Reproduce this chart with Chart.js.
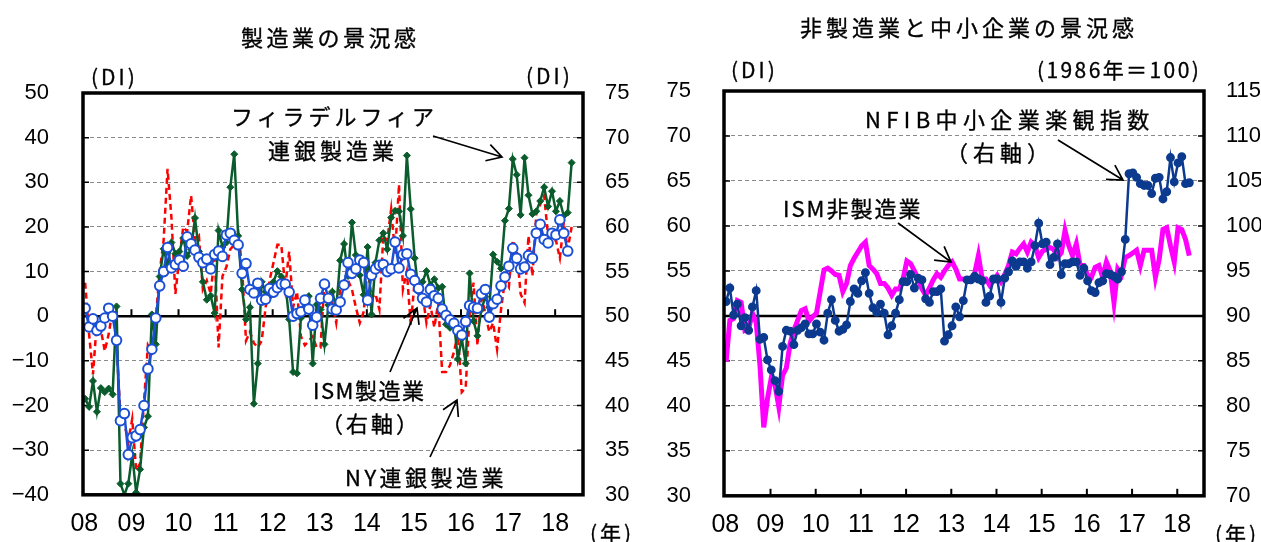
<!DOCTYPE html>
<html lang="ja">
<head>
<meta charset="utf-8">
<title>製造業・非製造業の景況感</title>
<script src="https://cdn.jsdelivr.net/npm/chart.js@4.4.1/dist/chart.umd.min.js"></script>
<style>
  html, body { margin: 0; padding: 0; background: #fff; }
  #page { position: relative; width: 1261px; height: 542px; overflow: hidden; color: #000;
          font-family: "Noto Sans CJK JP", "Noto Sans", sans-serif; }
  canvas { position: absolute; top: 0; }
  #left-chart { left: 0; }
  #right-chart { left: 640px; }
  #arrows { position: absolute; left: 0; top: 0; }
  .t { position: absolute; white-space: nowrap; font-size: 22px; line-height: 22px; letter-spacing: 4px;
       -webkit-text-stroke: 0.35px #000; }
  .u { font-size: 21px; line-height: 21px; letter-spacing: 3px; }
</style>
</head>
<body>
<div id="page">
  <canvas id="left-chart" width="640" height="542"></canvas>
  <canvas id="right-chart" width="621" height="542"></canvas>
  <svg id="arrows" width="1261" height="542"></svg>

  <!-- titles -->
  <div class="t" style="left:241px; top:25px; letter-spacing:3.5px;">製造業の景況感</div>
  <div class="t" style="left:800px; top:15px; letter-spacing:4px;">非製造業と中小企業の景況感</div>

  <!-- units -->
  <div class="t u" style="left:91px; top:66px;">(DI)</div>
  <div class="t u" style="left:526px; top:65px;">(DI)</div>
  <div class="t u" style="left:731px; top:59px;">(DI)</div>
  <div class="t u" style="left:1037px; top:59px; letter-spacing:2.4px;">(1986年＝100)</div>
  <div class="t u" style="left:590px; top:522px;">(年)</div>
  <div class="t u" style="left:1215px; top:523px;">(年)</div>

  <!-- left panel notes -->
  <div class="t" style="left:231px; top:104px;">フィラデルフィア</div>
  <div class="t" style="left:268px; top:138px;">連銀製造業</div>
  <div class="t" style="left:313px; top:378px; letter-spacing:1.5px;">ISM製造業</div>
  <div class="t" style="left:321px; top:411px; letter-spacing:3px;">（右軸）</div>
  <div class="t" style="left:345px; top:465px; letter-spacing:3.5px;">NY連銀製造業</div>

  <!-- right panel notes -->
  <div class="t" style="left:865px; top:107px; letter-spacing:5.4px;">NFIB中小企業楽観指数</div>
  <div class="t" style="left:946px; top:140px; letter-spacing:5px;">（右軸）</div>
  <div class="t" style="left:783px; top:196px; letter-spacing:2px;">ISM非製造業</div>
</div>

<script>
// x position of each month: index from Jan 2008
const yearLabels = ["08", "09", "10", "11", "12", "13", "14", "15", "16", "17", "18"];

// Philadelphia Fed manufacturing DI (left axis), Jan 2008 - May 2018
const phillyFed = [
  -18.5, -20.3, -14.5, -21.4, -16.1, -17.0, -16.2, -17.5, 2.2, -37.5, -40.0, -37.5,
  -31.0, -39.5, -34.3, -24.9, -22.4, 0.4, -6.3, 8.9, 15.1, 11.5, 16.5, 14.0,
  14.5, 17.5, 13.5, 15.0, 22.0, 14.5, 7.7, 3.7, 4.6, 0.7, 19.2, 15.5,
  16.5, 28.9, 36.3, 18.0, 6.0, -0.7, 2.0, -19.6, -10.6, 7.7, 5.5, 4.4,
  7.7, 10.1, 8.9, 7.5, -0.7, -12.5, -12.8, -0.4, 3.0, 4.5, -10.6, 2.6,
  1.5, -6.3, 2.5, 5.5, 1.8, 12.5, 16.2, 9.0, 21.0, 13.7, 9.2, 4.8,
  15.5, 0.4, 12.0, 17.0, 18.6, 15.0, 22.1, 23.6, 23.5, 18.0, 36.0, 24.0,
  13.0, 5.5, 7.7, 10.1, 7.0, 8.3, 6.3, 6.6, -1.8, -2.6, -1.5, -9.6,
  -5.0, -10.6, 9.6, -1.1, -4.4, 1.5, 4.4, 2.0, 13.8, 12.2, 10.7, 21.4,
  24.1, 35.2, 31.7, 22.7, 35.5, 27.1, 22.9, 23.5, 25.8, 28.9, 24.6, 28.0,
  23.5, 25.8, 22.5, 23.2, 34.4
];

// NY Fed (Empire State) manufacturing DI (left axis), Jan 2008 - May 2018
const nyFed = [
  7.5, -4.0, -13.0, -1.0, -3.0, -7.8, -4.0, 1.5, -6.0, -22.5, -24.0, -28.0,
  -23.0, -34.5, -33.0, -19.0, -6.5, -8.0, -0.5, 10.0, 17.0, 33.0, 22.0, 5.0,
  13.0, 20.0, 19.0, 27.0, 17.0, 18.0, 6.0, 8.0, 5.0, 14.0, -7.0, 9.0,
  11.0, 15.0, 16.0, 19.0, 11.0, -5.5, -3.5, -6.0, -7.0, -5.5, 2.0, 8.0,
  12.0, 16.0, 16.0, 6.5, 14.5, 2.0, 5.5, -4.5, -6.5, -5.5, -4.5, -7.0,
  -7.0, 8.0, 7.0, 3.0, -1.5, 6.0, 8.0, 8.0, 6.0, 2.0, -1.5, 1.0,
  11.0, 4.0, 5.0, 1.5, 18.0, 17.0, 24.0, 14.0, 29.5, 6.0, 10.0, -2.0,
  8.0, 6.5, 5.0, -1.5, 2.5, -2.5, 3.0, -12.5, -12.5, -11.0, -8.0, -4.0,
  -17.0, -16.0, 0.5, 7.5, -6.5, 5.0, 0.5, -3.5, -1.5, -7.4, 1.5, 8.0,
  6.5, 17.0, 15.0, 5.0, 3.0, 18.0, 9.0, 23.0, 25.0, 27.0, 18.0, 17.0,
  17.0, 13.0, 21.0, 15.0, 20.0
];

// ISM manufacturing (right axis), Jan 2008 - Apr 2018
const ismMfg = [
  50.9, 48.8, 49.7, 48.4, 48.9, 49.8, 50.9, 50.0, 47.3, 38.3, 39.1, 34.5,
  36.4, 36.6, 37.3, 40.0, 44.1, 46.3, 49.8, 53.4, 55.0, 57.7, 55.4, 55.8,
  56.3, 55.6, 58.9, 58.1, 57.4, 56.6, 56.0, 56.4, 55.3, 56.9, 57.3, 56.7,
  59.1, 59.3, 58.5, 58.0, 54.8, 55.9, 53.0, 52.6, 53.7, 51.8, 51.9, 53.1,
  52.7, 53.2, 53.6, 53.6, 52.7, 50.0, 50.3, 50.5, 51.8, 50.8, 49.0, 49.9,
  52.0, 53.6, 52.0, 50.8, 50.7, 51.6, 53.5, 56.0, 54.8, 55.3, 56.3, 56.0,
  51.8, 54.6, 55.3, 55.7, 55.8, 55.0, 55.3, 58.3, 55.4, 56.9, 57.0, 54.7,
  54.0, 53.1, 52.0, 51.6, 53.0, 52.3, 52.0, 50.8, 50.1, 49.6, 49.2, 48.4,
  47.9, 49.4, 51.2, 51.0, 50.9, 52.5, 53.0, 49.9, 51.4, 51.9, 53.4, 54.4,
  55.6, 57.6, 56.5, 55.3, 55.5, 56.8, 56.5, 59.3, 60.3, 58.6, 58.2, 59.3,
  59.1, 60.8, 59.3, 57.3
];

// ISM non-manufacturing (left axis), Jan 2008 - Apr 2018
const ismNonMfg = [
  44.9, 49.5, 49.7, 51.7, 51.5, 48.4, 48.6, 50.3, 49.3, 44.5, 37.6, 40.8,
  43.1, 42.3, 39.9, 43.4, 44.2, 46.9, 48.4, 49.5, 50.6, 50.8, 49.4, 49.9,
  50.3, 52.7, 55.1, 55.3, 55.0, 54.6, 54.5, 52.7, 53.6, 55.6, 56.4, 57.1,
  57.8, 58.2, 55.6, 55.2, 54.7, 53.6, 53.6, 53.1, 52.3, 53.0, 53.0, 54.1,
  56.1, 55.8, 55.0, 54.1, 53.0, 52.3, 53.1, 54.0, 54.7, 54.3, 55.0, 55.6,
  56.0, 55.2, 54.1, 54.1, 54.1, 54.1, 54.7, 56.7, 54.1, 54.1, 53.4, 53.9,
  54.5, 53.8, 54.6, 55.6, 57.1, 56.9, 57.5, 58.0, 57.1, 58.2, 57.8, 56.5,
  57.2, 57.4, 57.6, 57.4, 56.5, 57.0, 59.5, 57.8, 56.7, 58.0, 55.6, 55.6,
  54.5, 54.3, 55.4, 55.6, 54.3, 56.0, 55.0, 51.5, 55.2, 54.6, 56.5, 56.7,
  57.0, 57.3, 55.6, 57.3, 57.3, 57.3, 54.3, 56.3, 59.6, 59.8, 57.8, 56.0,
  59.8, 59.6, 58.5, 56.7
];

// NFIB small business optimism index, 1986=100 (right axis), Jan 2008 - Apr 2018
const nfib = [
  91.6, 93.1, 90.1, 91.3, 88.9, 89.8, 88.4, 91.0, 92.8, 87.4, 87.6, 85.1,
  84.0, 82.8, 81.6, 86.6, 88.4, 88.3, 86.8, 88.4, 88.7, 89.1, 88.0, 88.0,
  89.1, 88.2, 87.3, 90.3, 91.8, 89.5, 88.3, 88.5, 89.0, 91.6, 93.0, 92.5,
  93.9, 94.8, 92.5, 90.9, 90.4, 91.3, 90.3, 87.9, 88.9, 90.3, 91.8, 93.8,
  93.8, 94.6, 93.1, 94.2, 94.0, 91.9, 91.5, 92.7, 92.7, 93.0, 87.2, 87.9,
  88.9, 91.0, 89.9, 91.7, 94.0, 94.0, 94.4, 94.1, 93.9, 91.5, 92.2, 94.1,
  94.1, 91.5, 94.2, 94.9, 96.1, 95.5, 96.0, 96.0, 95.3, 96.0, 97.8, 100.3,
  98.0, 98.2, 95.7, 96.5, 98.0, 94.6, 95.8, 95.8, 96.0, 96.0, 94.5, 95.3,
  93.9, 92.8, 92.6, 93.7, 93.9, 94.7, 94.6, 94.4, 94.1, 94.9, 98.5, 105.8,
  105.9, 105.4, 104.7, 104.5, 104.5, 103.6, 105.3, 105.4, 103.0, 103.8, 107.6, 104.9,
  107.0, 107.7, 104.7, 104.8
];

const X_MIN = -0.35;
const X_MAX = 127.1;
const X_SHIFT = 0.2; // marks sit a little right of the year tick

const tickFont = { family: '"Liberation Sans", Arial, sans-serif', size: 22 };
const yearFont = { family: '"Liberation Sans Narrow", "Liberation Sans", Arial, sans-serif', size: 25 };

function toPoints(values) {
  return values.map((v, i) => ({ x: i + X_SHIFT, y: v }));
}

function yearAxis() {
  return {
    type: "linear",
    min: X_MIN,
    max: X_MAX,
    afterBuildTicks: scale => {
      scale.ticks = yearLabels.map((_, k) => ({ value: k * 12 }));
    },
    afterFit: scale => { scale.height = 43; },
    ticks: {
      autoSkip: false,
      maxRotation: 0,
      padding: 14,
      color: "#000",
      font: yearFont,
      callback: v => yearLabels[Math.round(v / 12)]
    },
    grid: { display: false, drawTicks: false },
    border: { display: false }
  };
}

function valueAxis(position, min, max, step, width, padding, baseValue, showGrid) {
  return {
    type: "linear",
    position: position,
    min: min,
    max: max,
    afterFit: scale => { scale.width = width; },
    ticks: {
      stepSize: step,
      padding: padding,
      color: "#000",
      font: tickFont,
      callback: v => String(v).replace("-", "\u2212")
    },
    grid: {
      display: showGrid,
      drawTicks: false,
      lineWidth: 1,
      color: c => (c.tick && c.tick.value === baseValue) ? "rgba(0,0,0,0)" : "#8a8a8a"
    },
    border: { display: false, dash: [4, 3] }
  };
}

// bold base line, year ticks, short axis ticks and the heavy frame
const framePlugin = {
  id: "frame",
  beforeDatasetsDraw(chart, args, opts) {
    const { ctx, chartArea: a, scales } = chart;
    const baseY = scales.y.getPixelForValue(opts.base);
    ctx.save();
    ctx.strokeStyle = "#000";
    ctx.lineWidth = 2.5;
    ctx.beginPath();
    ctx.moveTo(a.left, baseY);
    ctx.lineTo(a.right, baseY);
    ctx.stroke();

    const tickY = opts.ticksOnBase ? baseY : a.bottom;
    ctx.lineWidth = 2;
    scales.x.ticks.forEach(t => {
      if (t.value <= 0) return;
      const x = scales.x.getPixelForValue(t.value);
      ctx.beginPath();
      ctx.moveTo(x, tickY);
      ctx.lineTo(x, tickY - 7);
      ctx.stroke();
    });

    ctx.lineWidth = 1.5;
    scales.y.ticks.forEach(t => {
      const y = scales.y.getPixelForValue(t.value);
      ctx.beginPath();
      ctx.moveTo(a.left, y);
      ctx.lineTo(a.left + 6, y);
      ctx.moveTo(a.right, y);
      ctx.lineTo(a.right - 6, y);
      ctx.stroke();
    });
    ctx.restore();
  },
  afterDraw(chart) {
    const { ctx, chartArea: a } = chart;
    ctx.save();
    ctx.strokeStyle = "#000";
    ctx.lineWidth = 3.5;
    ctx.strokeRect(a.left, a.top, a.right - a.left, a.bottom - a.top);
    ctx.restore();
  }
};

function baseOptions(topPad, leftAxis, rightAxis, frameOpts) {
  return {
    responsive: false,
    animation: false,
    devicePixelRatio: 1,
    layout: { padding: { top: topPad, left: 0, right: 0, bottom: 0 }, autoPadding: false },
    scales: { x: yearAxis(), y: leftAxis, y2: rightAxis },
    plugins: {
      legend: { display: false },
      tooltip: { enabled: false },
      frame: frameOpts
    }
  };
}

function initLeftChart() {
  const ctx = document.getElementById("left-chart").getContext("2d");
  return new Chart(ctx, {
    type: "line",
    data: {
      datasets: [
        {
          label: "ISM製造業（右軸）",
          data: toPoints(ismMfg),
          yAxisID: "y2",
          borderColor: "#1a4fd6",
          borderWidth: 2.5,
          pointStyle: "circle",
          pointRadius: 4.8,
          pointBorderWidth: 2,
          pointBackgroundColor: "#fff",
          pointBorderColor: "#1a4fd6",
          tension: 0
        },
        {
          label: "フィラデルフィア連銀製造業",
          data: toPoints(phillyFed),
          yAxisID: "y",
          borderColor: "#0b5c2c",
          borderWidth: 2.5,
          pointStyle: "rectRot",
          pointRadius: 3.5,
          pointBorderWidth: 1,
          pointBackgroundColor: "#0b5c2c",
          pointBorderColor: "#0b5c2c",
          tension: 0
        },
        {
          label: "NY連銀製造業",
          data: toPoints(nyFed),
          yAxisID: "y",
          borderColor: "#ff0000",
          borderWidth: 2.5,
          borderDash: [6, 4],
          pointRadius: 0,
          tension: 0
        }
      ]
    },
    options: baseOptions(
      93,
      valueAxis("left", -40, 50, 10, 83, 34, 0, true),
      valueAxis("right", 30, 75, 5, 57, 22, null, false),
      { base: 0, ticksOnBase: true }
    ),
    plugins: [framePlugin]
  });
}

function initRightChart() {
  const ctx = document.getElementById("right-chart").getContext("2d");
  return new Chart(ctx, {
    type: "line",
    data: {
      datasets: [
        {
          label: "NFIB中小企業楽観指数（右軸）",
          data: toPoints(nfib),
          yAxisID: "y2",
          borderColor: "#0b3a8f",
          borderWidth: 2.5,
          pointStyle: "circle",
          pointRadius: 3.2,
          pointBackgroundColor: "#0b3a8f",
          pointBorderColor: "#0b3a8f",
          tension: 0
        },
        {
          label: "ISM非製造業",
          data: toPoints(ismNonMfg),
          yAxisID: "y",
          borderColor: "#ff00ff",
          borderWidth: 5,
          pointRadius: 0,
          tension: 0
        }
      ]
    },
    options: baseOptions(
      91,
      valueAxis("left", 30, 75, 5, 84, 33, 50, true),
      valueAxis("right", 70, 115, 5, 57, 22, null, false),
      { base: 50, ticksOnBase: false }
    ),
    plugins: [framePlugin]
  });
}

// callout arrows: [tailX, tailY, tipX, tipY] in page pixels
const arrows = [
  [433, 136, 502, 157],
  [390, 372, 417, 308],
  [430, 457, 457, 400],
  [1058, 140, 1123, 180],
  [898, 223, 951, 262]
];

function drawArrows() {
  const svg = document.getElementById("arrows");
  const ns = "http://www.w3.org/2000/svg";
  arrows.forEach(([x1, y1, x2, y2]) => {
    const ang = Math.atan2(y2 - y1, x2 - x1);
    const len = 17, spread = 0.52;
    const ax = x2 - len * Math.cos(ang - spread), ay = y2 - len * Math.sin(ang - spread);
    const bx = x2 - len * Math.cos(ang + spread), by = y2 - len * Math.sin(ang + spread);
    const p = document.createElementNS(ns, "path");
    p.setAttribute("d", `M${x1},${y1} L${x2},${y2} M${ax},${ay} L${x2},${y2} L${bx},${by}`);
    p.setAttribute("fill", "none");
    p.setAttribute("stroke", "#000");
    p.setAttribute("stroke-width", "1.7");
    svg.appendChild(p);
  });
}

initLeftChart();
initRightChart();
drawArrows();
</script>
</body>
</html>
